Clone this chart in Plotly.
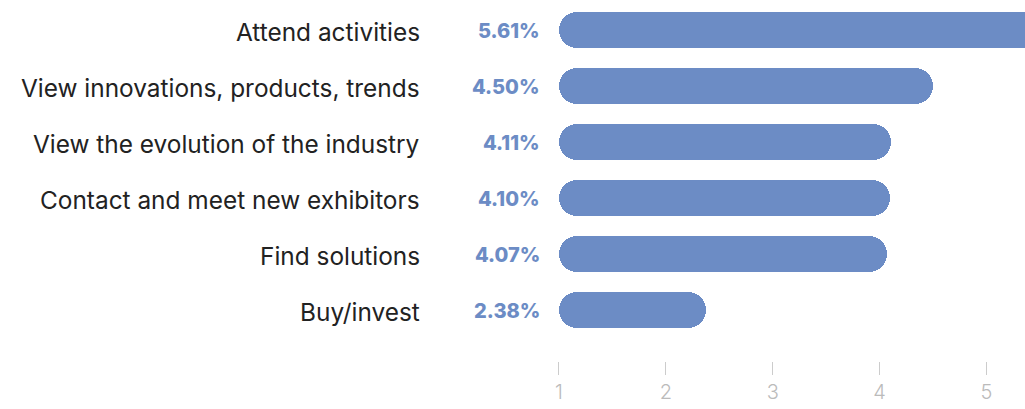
import plotly.graph_objects as go

# Reasons for visiting, top to bottom, with their scores
categories = [
    "Attend activities",
    "View innovations, products, trends",
    "View the evolution of the industry",
    "Contact and meet new exhibitors",
    "Find solutions",
    "Buy/invest",
]
scores = [5.61, 4.50, 4.11, 4.10, 4.07, 2.38]
tick_values = [1, 2, 3, 4, 5]
tick_labels = ["1", "2", "3", "4", "5"]

BAR_START = 1          # pills run from the start of the scale to the score
BAR_COLOR = "#6c8cc5"
FONT = "Inter"

fig = go.Figure()
fig.add_trace(go.Bar(
    y=categories,
    x=[s - BAR_START for s in scores],
    base=BAR_START,
    orientation="h",
    width=0.643,
    marker=dict(color=BAR_COLOR, cornerradius="50%", line=dict(width=0)),
    hoverinfo="skip",
    showlegend=False,
))

for cat, s in zip(categories, scores):
    # percentage to the left of each pill
    fig.add_annotation(
        x=BAR_START, y=cat, xref="x", yref="y",
        text=f"{s:.2f}%",
        showarrow=False, xanchor="right", yanchor="middle",
        xshift=-17, yshift=-1,
        font=dict(family=FONT, size=20, color=BAR_COLOR, weight=800),
    )
    # category name, right-aligned further left
    fig.add_annotation(
        x=BAR_START, y=cat, xref="x", yref="y",
        text=cat,
        showarrow=False, xanchor="right", yanchor="middle",
        xshift=-137, yshift=-2,
        font=dict(family=FONT, size=24.4, color="#222222"),
    )

fig.update_layout(
    width=1025, height=409,
    margin=dict(l=540, r=0, t=2, b=48),
    paper_bgcolor="white", plot_bgcolor="white",
    bargap=0,
    xaxis=dict(
        range=[0.823, 5.36],
        tickvals=tick_values, ticktext=tick_labels,
        ticks="outside", ticklen=13, tickwidth=1, tickcolor="#cccccc",
        showgrid=False, zeroline=False, showline=False,
        tickfont=dict(family=FONT, size=20, color="#bbbbbb", weight=300),
    ),
    yaxis=dict(
        categoryorder="array", categoryarray=categories,
        range=[5.91, -0.5],
        showgrid=False, zeroline=False, showline=False, ticks="",
        showticklabels=False,
    ),
)

fig.write_html("out.html")
